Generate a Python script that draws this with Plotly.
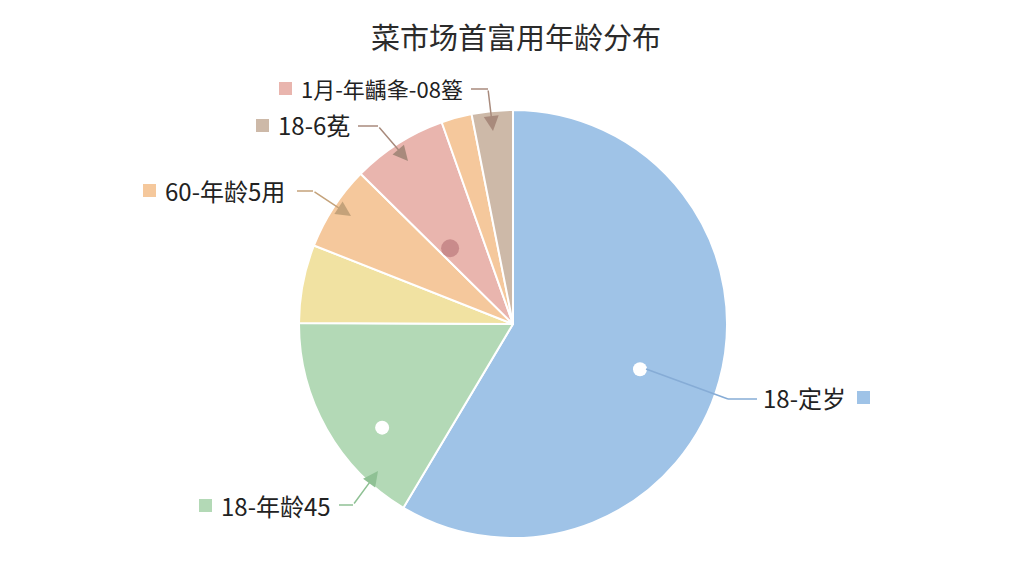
import math
import plotly.graph_objects as go

# ---- data ----
categories = ["18-定岁", "18-年龄45", "黄", "60-年龄5用", "粉", "浅橙", "18-6莬"]
values = [58.5, 16.5, 5.9, 6.4, 7.2, 2.3, 3.1]
colors = ["#9fc3e7", "#b3d9b6", "#f1e2a2", "#f5c89c", "#e9b5ae", "#f5c89c", "#cdb9a8"]
title_text = "菜市场首富用年龄分布"

W, H = 1024, 576
CX, CY, R = 513, 324, 214
FONT = "Noto Sans CJK SC"

def px(x):
    return x / W

def py(y):
    return 1 - y / H

fig = go.Figure(go.Pie(
    labels=categories,
    values=values,
    marker=dict(colors=colors, line=dict(color="white", width=2)),
    sort=False,
    direction="clockwise",
    rotation=0,
    textinfo="none",
    hoverinfo="label+percent",
    showlegend=False,
    domain=dict(x=[px(CX - R), px(CX + R)], y=[py(CY + R), py(CY - R)]),
))

# dots inside slices: (slice index, fraction along slice, radial fraction, color, radius)
dots = [(0, 0.52, 0.63, "white", 7), (1, 0.35, 0.78, "white", 7), (4, 0.22, 0.46, "#c98b8b", 9)]
total = sum(values)
cum = [0]
for v in values:
    cum.append(cum[-1] + v)
shapes = []
for idx, f, rf, col, rr in dots:
    ang = (cum[idx] + f * values[idx]) / total * 2 * math.pi
    x = CX + rf * R * math.sin(ang)
    y = CY - rf * R * math.cos(ang)
    shapes.append(dict(type="circle", xref="paper", yref="paper",
                       x0=px(x - rr), x1=px(x + rr), y0=py(y + rr), y1=py(y - rr),
                       fillcolor=col, line=dict(width=0), layer="above"))

annotations = []
labels = [
    ("1月-年齲夆-08簦", "#e9b5ae", 301, 88, "left", 22),
    ("18-6莬", "#cdb9a8", 278, 125, "left", 24),
    ("60-年龄5用", "#f5c89c", 165, 190, "left", 24),
    ("18-年龄45", "#b3d9b6", 221, 505, "left", 24),
    ("18-定岁", "#9fc3e7", 763, 397, "right", 24),
]
for text, sq, x, y, side, fs in labels:
    sqx = x - 22 if side == "left" else 857
    shapes.append(dict(type="rect", xref="paper", yref="paper",
                       x0=px(sqx), x1=px(sqx + 13), y0=py(y + 7), y1=py(y - 6),
                       fillcolor=sq, line=dict(width=0)))
    annotations.append(dict(x=px(x - 2), y=py(y), xref="paper", yref="paper", text=text,
                            showarrow=False, xanchor="left", yanchor="middle",
                            font=dict(size=fs, color="#222222", family=FONT)))

# leader lines: (start x, y, elbow x, tip x, tip y, color)
leaders = [
    (471, 89, 488, 493, 131, "#a88a7c"),
    (358, 126, 378, 408, 161, "#a88a7c"),
    (297, 191, 313, 351, 216, "#c4a27a"),
    (339, 505, 353, 378, 471, "#8fc194"),
]
for sx, sy, ex, tx, ty, col in leaders:
    shapes.append(dict(type="line", xref="paper", yref="paper", x0=px(sx), y0=py(sy),
                       x1=px(ex), y1=py(sy), line=dict(color=col, width=1.5)))
    annotations.append(dict(x=px(tx), y=py(ty), xref="paper", yref="paper", text="",
                            showarrow=True, ax=ex - tx, ay=sy - ty, axref="pixel", ayref="pixel",
                            arrowhead=2, arrowsize=2, arrowwidth=1.5, arrowcolor=col,
                            standoff=0))

# blue leader (no arrow)
shapes.append(dict(type="line", xref="paper", yref="paper", x0=px(646), y0=py(369),
                   x1=px(728), y1=py(399), line=dict(color="#86acd6", width=1.5)))
shapes.append(dict(type="line", xref="paper", yref="paper", x0=px(728), y0=py(399),
                   x1=px(757), y1=py(399), line=dict(color="#86acd6", width=1.5)))

annotations.append(dict(x=px(516), y=py(36), xref="paper", yref="paper", text=title_text,
                        showarrow=False, xanchor="center", yanchor="middle",
                        font=dict(size=29, color="#2b2b2b", family=FONT)))

fig.update_layout(
    width=W, height=H,
    margin=dict(l=0, r=0, t=0, b=0),
    paper_bgcolor="white", plot_bgcolor="white",
    shapes=shapes, annotations=annotations,
)

fig.write_html("out.html", config={"displayModeBar": False},
               post_script="document.body.style.margin='0';")
